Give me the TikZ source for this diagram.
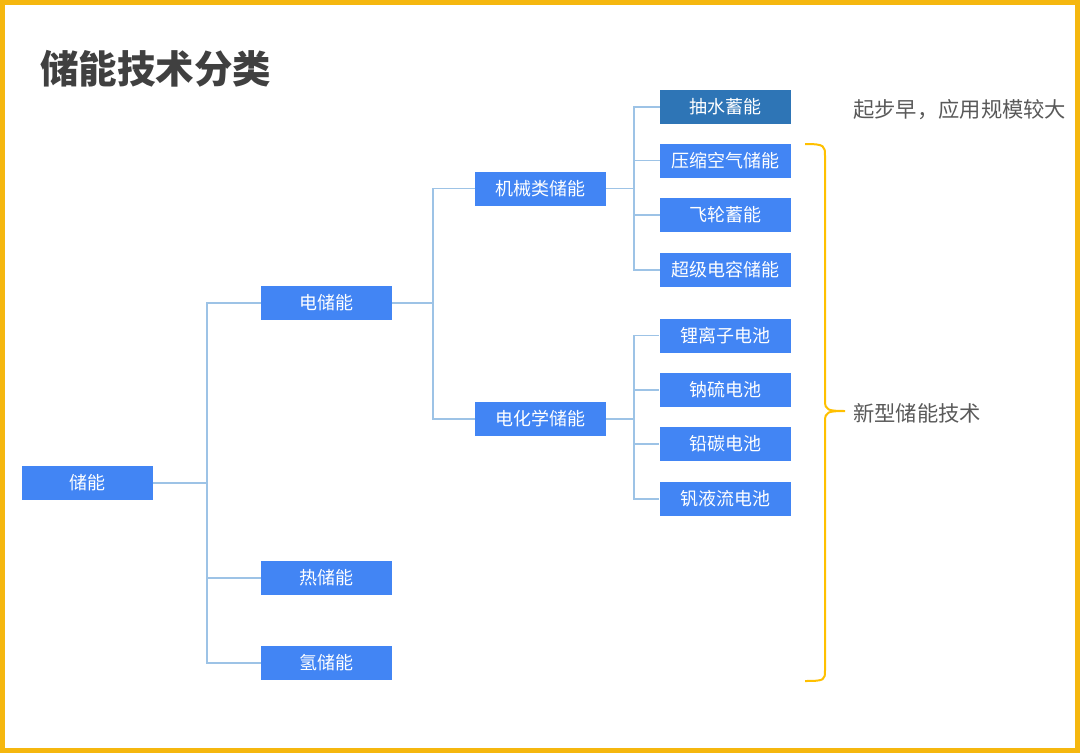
\documentclass[tikz,border=0pt]{standalone}
\usepackage{fontspec}
\setmainfont{Noto Sans CJK SC}
\definecolor{boxblue}{RGB}{66,133,244}
\definecolor{boxdark}{RGB}{46,117,182}
\definecolor{linkblue}{RGB}{157,195,230}
\definecolor{framey}{RGB}{245,183,15}
\definecolor{bracey}{RGB}{255,192,0}
\definecolor{notegray}{RGB}{89,89,89}
\definecolor{titlegray}{RGB}{64,64,64}
\begin{document}
\begin{tikzpicture}[x=1pt,y=-1pt,
  box/.style={fill=boxblue,text=white,minimum width=131pt,minimum height=34pt,inner sep=0pt,font=\fontsize{18}{20}\selectfont},
  link/.style={draw=linkblue,line width=1.2pt},
  note/.style={text=notegray,anchor=west,inner sep=0pt,font=\fontsize{21.3}{24}\selectfont}]
\useasboundingbox (0,0) rectangle (1080,753);
\draw[framey,line width=5pt] (2.5,2.5) rectangle (1077.5,750.5);
\node[anchor=west,inner sep=0pt,text=titlegray,font=\fontsize{38.5}{44}\selectfont\bfseries] (title) at (40,69) {储能技术分类};
% tree
\node[box] (root) at (87,483) {储能};
\node[box] (elec) at (326.5,303) {电储能};
\node[box] (heat) at (326.5,578) {热储能};
\node[box] (hydro) at (326.5,663) {氢储能};
\node[box] (mech) at (540.5,188.5) {机械类储能};
\node[box] (chem) at (540.5,419) {电化学储能};
\node[box,fill=boxdark] (pump) at (725.5,107) {抽水蓄能};
\node[box] (air) at (725.5,160.5) {压缩空气储能};
\node[box] (fly) at (725.5,215) {飞轮蓄能};
\node[box] (cap) at (725.5,270) {超级电容储能};
\node[box] (li) at (725,335.5) {锂离子电池};
\node[box] (nas) at (725,390) {钠硫电池};
\node[box] (pbc) at (725,444) {铅碳电池};
\node[box] (vrb) at (725,499) {钒液流电池};
\coordinate (j1) at (207,483);
\coordinate (j2) at (433,303);
\coordinate (j3) at (634,188.5);
\coordinate (j4) at (634,419);
\draw[link] (root.east) -- (j1);
\foreach \n in {elec,heat,hydro} \draw[link] (j1) |- (\n.west);
\draw[link] (elec.east) -- (j2);
\foreach \n in {mech,chem} \draw[link] (j2) |- (\n.west);
\draw[link] (mech.east) -- (j3);
\foreach \n in {pump,air,fly,cap} \draw[link] (j3) |- (\n.west);
\draw[link] (chem.east) -- (j4);
\foreach \n in {li,nas,pbc,vrb} \draw[link] (j4) |- (\n.west);
% notes
\node[note] (early) at (853,110) {起步早，应用规模较大};
\node[note] (newtech) at (853,413) {新型储能技术};
\draw[bracey,line width=2pt] (805,144) .. controls (825,144) and (825,146) .. (825,156) -- (825,401)
  .. controls (825,410) and (828,411) .. (845,411)
  .. controls (828,411) and (825,412) .. (825,421) -- (825,670)
  .. controls (825,680) and (825,681) .. (805,681);
\end{tikzpicture}
\end{document}
